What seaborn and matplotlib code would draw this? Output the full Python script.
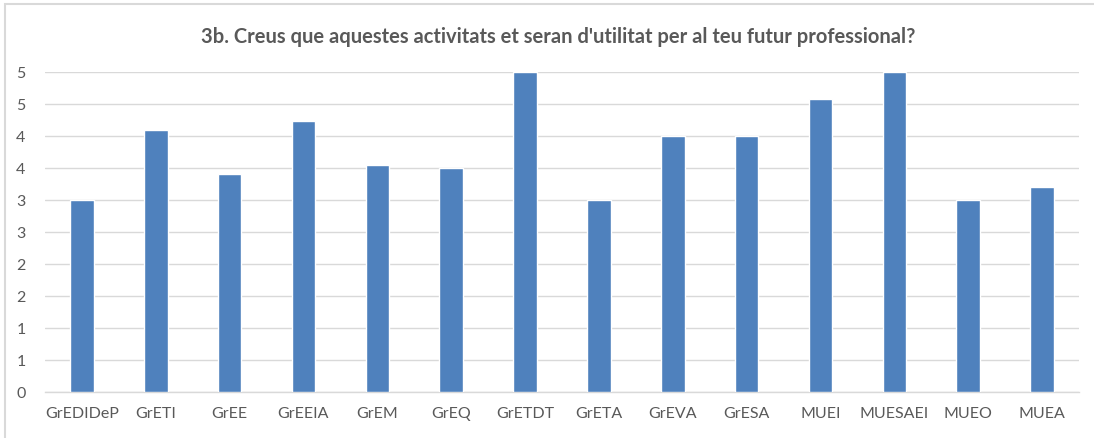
import math
import matplotlib
matplotlib.use("Agg")
import matplotlib.pyplot as plt
from matplotlib.ticker import MultipleLocator, FuncFormatter
from matplotlib.patches import Rectangle
import seaborn as sns
import pandas as pd

categories = ["GrEDIDeP", "GrETI", "GrEE", "GrEEIA", "GrEM", "GrEQ", "GrETDT",
              "GrETA", "GrEVA", "GrESA", "MUEI", "MUESAEI", "MUEO", "MUEA"]
values = [3.0, 4.1, 3.4, 4.24, 3.55, 3.5, 5.0, 3.0, 4.0, 4.0, 4.58, 5.0, 3.0, 3.2]
title = "3b. Creus que aquestes activitats et seran d'utilitat per al teu futur professional?"

sns.set_theme(style="white")
plt.rcParams['font.family'] = ['Lato', 'DejaVu Sans']

df = pd.DataFrame({"cat": categories, "val": values})

fig = plt.figure(figsize=(10.94, 4.39), dpi=100)
ax = fig.add_axes([45/1094, 1 - 393/439, (1079 - 45)/1094, (393 - 73)/439])

sns.barplot(data=df, x="cat", y="val", color="#4F81BD", saturation=1,
            width=0.32, ax=ax, zorder=3)

ax.set_ylim(0, 5)
ax.set_xlim(-0.5, len(categories) - 0.5)
ax.yaxis.set_major_locator(MultipleLocator(0.5))
ax.yaxis.set_major_formatter(FuncFormatter(lambda v, p: str(int(math.floor(v + 0.5 + 1e-9)))))
ax.grid(axis="y", color="#D9D9D9", linewidth=1.0, zorder=0)
ax.set_axisbelow(True)
for s in ["left", "right", "top"]:
    ax.spines[s].set_visible(False)
ax.spines["bottom"].set_color("#D9D9D9")
ax.spines["bottom"].set_linewidth(1.0)
ax.set_xlabel("")
ax.set_ylabel("")
ax.tick_params(axis="y", length=0, pad=14, labelsize=11.5, labelcolor="#595959")
ax.tick_params(axis="x", length=0, pad=10, labelsize=11.5, labelcolor="#595959")

fig.text(558/1094, 1 - 37/439, title, ha="center", va="center",
         fontsize=14.5, fontweight="bold", color="#595959")

fig.patches.append(Rectangle((5/1094, -0.05), 1.2, (434/439) + 0.05, transform=fig.transFigure,
                             fill=False, edgecolor="#D9D9D9", linewidth=1.5))

fig.savefig("out.png", dpi=100)
